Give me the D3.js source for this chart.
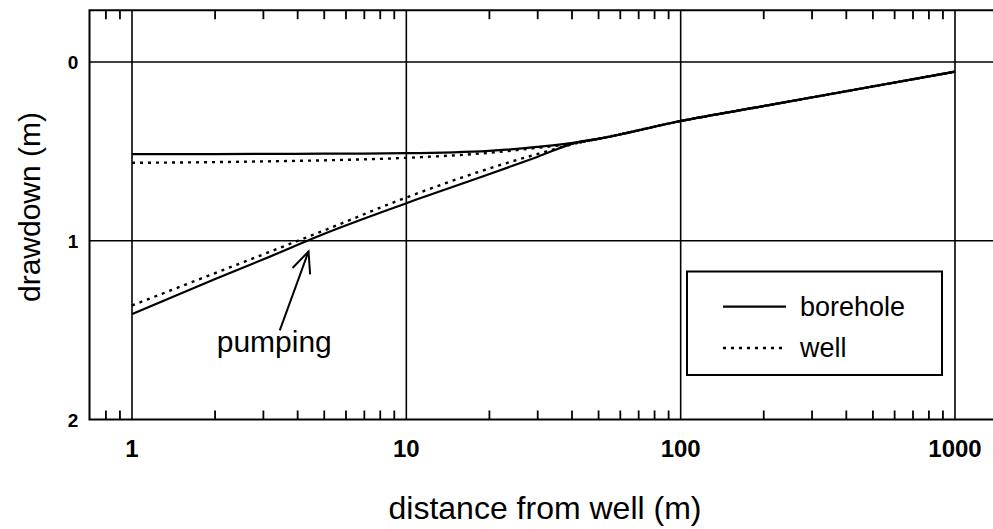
<!DOCTYPE html>
<html>
<head>
<meta charset="utf-8">
<script src="https://cdn.jsdelivr.net/npm/d3@7/dist/d3.min.js"></script>
<style>
  html, body { margin: 0; padding: 0; background: #fff; }
  svg { display: block; }
  text { font-family: "Liberation Sans", Arial, Helvetica, sans-serif; fill: #000; }
</style>
</head>
<body>
<svg id="chart" width="993" height="529"></svg>
<script>
// Distance from the pumped well (m)
const distance = [1, 2, 3, 5, 10, 20, 30, 43, 50, 100, 200, 500, 1000];

// Drawdown (m) along the profile, two branches per series
const boreholePumping = [1.41, 1.215, 1.105, 0.962, 0.79, 0.628, 0.531, 0.445, 0.43, 0.33, 0.247, 0.137, 0.054];
const boreholeRest    = [0.515, 0.515, 0.514, 0.513, 0.51, 0.497, 0.475, 0.447, 0.43, 0.33, 0.247, 0.137, 0.054];
const wellPumping     = [1.362, 1.182, 1.077, 0.943, 0.758, 0.596, 0.515, 0.45, 0.43, 0.33, 0.247, 0.137, 0.054];
const wellRest        = [0.564, 0.56, 0.556, 0.55, 0.536, 0.508, 0.48, 0.45, 0.43, 0.33, 0.247, 0.137, 0.054];

// Axis ticks
const majorX = [1, 10, 100, 1000];
const majorXLabels = ["1", "10", "100", "1000"];
const minorX = [0.8, 0.9, 2, 3, 4, 5, 6, 7, 8, 9, 20, 30, 40, 50, 60, 70, 80, 90,
                200, 300, 400, 500, 600, 700, 800, 900];
const gridY = [0, 1];
const labelsY = [0, 1, 2];

const legendItems = [
  { name: "borehole", dash: null },
  { name: "well", dash: "3,5" }
];

const svg = d3.select("#chart");
const W = 993, H = 529;
svg.append("rect").attr("width", W).attr("height", H).attr("fill", "#fff");

const decade = 274.33;
const x0 = 132;
const x = d3.scaleLog()
  .domain([0.7, 1400])
  .range([x0 + Math.log10(0.7) * decade, x0 + Math.log10(1400) * decade]);
const y = d3.scaleLinear().domain([-0.29, 2]).range([10.2, 419.5]);

const plotLeft = x.range()[0], plotTop = y.range()[0], plotBottom = y.range()[1];

const frame = svg.append("g").attr("stroke", "#000").attr("fill", "none");

// Major grid lines
frame.selectAll("line.vgrid").data(majorX).join("line")
  .attr("class", "vgrid")
  .attr("x1", d => x(d)).attr("x2", d => x(d))
  .attr("y1", plotTop).attr("y2", plotBottom)
  .attr("stroke-width", 1.6);
frame.selectAll("line.hgrid").data(gridY).join("line")
  .attr("class", "hgrid")
  .attr("x1", plotLeft).attr("x2", W)
  .attr("y1", d => y(d)).attr("y2", d => y(d))
  .attr("stroke-width", 1.6);

// Plot frame (left, top, bottom)
frame.append("path")
  .attr("d", `M${W},${plotTop}H${plotLeft}V${plotBottom}H${W}`)
  .attr("stroke-width", 2);

// Minor ticks on top and bottom edges
const bottomAxis = d3.axisBottom(x).tickValues(minorX).tickSize(-9).tickFormat("");
const topAxis = d3.axisTop(x).tickValues(minorX).tickSize(-9).tickFormat("");
svg.append("g").attr("transform", `translate(0,${plotBottom})`).call(bottomAxis)
  .call(g => g.select(".domain").remove())
  .call(g => g.selectAll(".tick line").attr("stroke", "#000").attr("stroke-width", 1.8));
svg.append("g").attr("transform", `translate(0,${plotTop})`).call(topAxis)
  .call(g => g.select(".domain").remove())
  .call(g => g.selectAll(".tick line").attr("stroke", "#000").attr("stroke-width", 1.8));

// Tick labels
svg.selectAll("text.xl").data(majorX).join("text")
  .attr("class", "xl")
  .attr("x", d => x(d)).attr("y", 457)
  .attr("text-anchor", "middle")
  .attr("font-size", 24).attr("font-weight", "bold")
  .text((d, i) => majorXLabels[i]);
svg.selectAll("text.yl").data(labelsY).join("text")
  .attr("class", "yl")
  .attr("x", 73).attr("y", d => y(d) + 7)
  .attr("text-anchor", "middle")
  .attr("font-size", 19).attr("font-weight", "bold")
  .text(d => d);

// Axis titles
svg.append("text")
  .attr("x", 545).attr("y", 519)
  .attr("text-anchor", "middle").attr("font-size", 32)
  .text("distance from well (m)");
svg.append("text")
  .attr("transform", "translate(40,207) rotate(-90)")
  .attr("text-anchor", "middle").attr("font-size", 30)
  .text("drawdown (m)");

// Curves
const line = d3.line()
  .x(d => x(d[0])).y(d => y(d[1]))
  .curve(d3.curveMonotoneX);
const series = [
  { values: wellPumping, dash: "3,5", w: 2.4 },
  { values: wellRest, dash: "3,5", w: 2.4 },
  { values: boreholePumping, dash: null, w: 2.2 },
  { values: boreholeRest, dash: null, w: 2.2 }
];
svg.append("g").selectAll("path").data(series).join("path")
  .attr("d", s => line(distance.map((r, i) => [r, s.values[i]])))
  .attr("fill", "none").attr("stroke", "#000")
  .attr("stroke-width", s => s.w)
  .attr("stroke-dasharray", s => s.dash);

// Annotation: arrow pointing at the pumping branch
const tip = [x(4.4), y(1.06)];
const ang = 110 * Math.PI / 180;
const shaftLen = 84, armLen = 23, armAng = 24 * Math.PI / 180;
const tail = [tip[0] + shaftLen * Math.cos(ang), tip[1] + shaftLen * Math.sin(ang)];
const arm = a => [tip[0] + armLen * Math.cos(a), tip[1] + armLen * Math.sin(a)];
const a1 = arm(ang + armAng), a2 = arm(ang - armAng);
const ann = svg.append("g").attr("stroke", "#000").attr("fill", "none").attr("stroke-width", 2);
ann.append("line").attr("x1", tail[0]).attr("y1", tail[1]).attr("x2", tip[0]).attr("y2", tip[1]);
ann.append("path").attr("d", `M${a1[0]},${a1[1]}L${tip[0]},${tip[1]}L${a2[0]},${a2[1]}`);
svg.append("text")
  .attr("x", x(3.3)).attr("y", 352)
  .attr("text-anchor", "middle").attr("font-size", 30)
  .text("pumping");

// Legend
const lg = svg.append("g");
lg.append("rect")
  .attr("x", 687).attr("y", 271.5).attr("width", 255).attr("height", 103.5)
  .attr("fill", "#fff").attr("stroke", "#000").attr("stroke-width", 2);
const rows = [{ ly: 306.7, ty: 316 }, { ly: 348, ty: 357 }];
legendItems.forEach((item, i) => {
  lg.append("line")
    .attr("x1", 723).attr("x2", 786)
    .attr("y1", rows[i].ly).attr("y2", rows[i].ly)
    .attr("stroke", "#000").attr("stroke-width", item.dash ? 2.4 : 2.2)
    .attr("stroke-dasharray", item.dash);
  lg.append("text")
    .attr("x", 800).attr("y", rows[i].ty)
    .attr("font-size", 27)
    .text(item.name);
});
</script>
</body>
</html>
